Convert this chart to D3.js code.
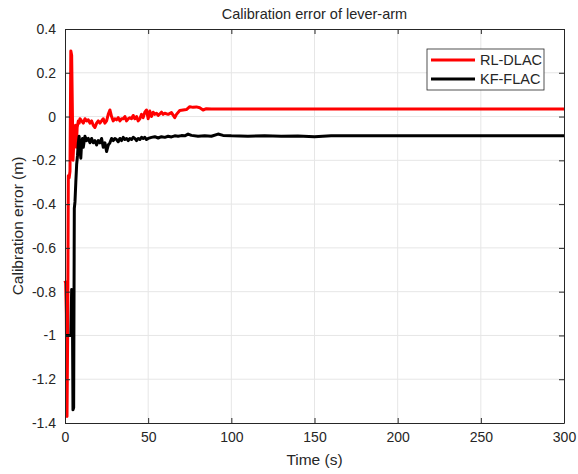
<!DOCTYPE html>
<html>
<head>
<meta charset="utf-8">
<script src="https://cdn.jsdelivr.net/npm/d3@7"></script>
<style>
  body { margin: 0; background: #fff; }
  svg { font-family: "Liberation Sans", Arial, sans-serif; }
</style>
</head>
<body>
<script>
// series
var redTime = [0, 0.4, 0.8, 1.2, 1.6, 2.0, 2.5, 3.0, 3.5, 4.0, 4.4, 4.8, 5.3, 5.8, 6.3, 6.8, 7.3, 8, 8.5, 9,
  10, 11, 12, 13, 14, 15, 16, 17, 18, 19, 20, 21, 22, 23, 24, 25, 26, 27, 28, 29,
  30, 31, 32, 33, 34, 35, 36, 37, 38, 39, 40, 41, 42, 43, 44, 45, 46, 47, 48, 49,
  50, 51, 52, 53, 54, 55, 56, 57, 58, 59, 60, 62, 64, 66, 67, 69, 71, 73, 75, 77,
  79, 81, 83, 85, 88, 92, 100, 150, 200, 300];
var redError = [-0.75, -0.76, -0.9, -1.37, -1.0, -0.27, -0.28, -0.25, 0.30, 0.28, 0.05, -0.20, -0.12, -0.05, -0.04, -0.14, -0.05, -0.02, -0.03, -0.01,
  -0.02, -0.03, -0.01, -0.02, -0.015, -0.03, -0.02, -0.04, -0.05, -0.03, -0.02, -0.03, -0.02, -0.01, -0.03, -0.02, 0.01, 0.03, 0.0, -0.02,
  -0.01, -0.015, -0.005, -0.02, -0.01, -0.01, 0.0, -0.02, -0.01, -0.005, -0.01, 0.005, -0.01, 0.0, -0.02, -0.01, 0.01, -0.005, 0.02, 0.03,
  -0.01, 0.025, 0.0, 0.02, 0.01, 0.015, 0.005, 0.012, 0.02, 0.01, 0.015, 0.01, 0.018, -0.005, 0.01, 0.028, 0.03, 0.032, 0.045, 0.042,
  0.044, 0.04, 0.03, 0.036, 0.035, 0.034, 0.035, 0.035, 0.035, 0.035];

var blackTime = [0, 1, 2, 3, 3.5, 4.0, 4.4, 4.8, 5.2, 5.6, 6.0, 6.5, 7, 7.5, 8, 8.5, 9, 9.5, 10, 10.5,
  11, 12, 13, 14, 15, 16, 17, 18, 19, 20, 21, 22, 23, 24, 25, 26, 27, 28, 29, 30,
  31, 32, 33, 34, 35, 36, 37, 38, 39, 40, 41, 42, 43, 44, 45, 46, 47, 48, 49, 50,
  52, 54, 56, 58, 60, 62, 64, 66, 68, 70, 72, 74, 76, 80, 84, 88, 92, 95, 100, 110,
  120, 130, 140, 150, 160, 200, 300];
var blackError = [-1.0, -1.0, -1.0, -1.0, -1.0, -0.79, -0.80, -1.34, -1.33, -0.42, -0.39, -0.30, -0.22, -0.18, -0.12, -0.09, -0.15, -0.19, -0.12, -0.10,
  -0.14, -0.09, -0.11, -0.10, -0.12, -0.10, -0.12, -0.11, -0.13, -0.11, -0.12, -0.10, -0.14, -0.12, -0.16, -0.13, -0.12, -0.10, -0.11, -0.10,
  -0.105, -0.115, -0.10, -0.11, -0.095, -0.105, -0.10, -0.11, -0.10, -0.105, -0.095, -0.10, -0.11, -0.10, -0.105, -0.095, -0.10, -0.095, -0.105, -0.10,
  -0.095, -0.092, -0.098, -0.092, -0.095, -0.09, -0.093, -0.088, -0.09, -0.087, -0.088, -0.08, -0.086, -0.09, -0.088, -0.09, -0.08, -0.086, -0.088, -0.09,
  -0.088, -0.09, -0.089, -0.092, -0.088, -0.088, -0.088];

var seriesNames = ["RL-DLAC", "KF-FLAC"];
var seriesColors = ["#ff0000", "#000000"];
var xTicks = [0, 50, 100, 150, 200, 250, 300];
var yTicks = [-1.4, -1.2, -1, -0.8, -0.6, -0.4, -0.2, 0, 0.2, 0.4];

var width = 578, height = 474;
var margin = {top: 29, right: 14, bottom: 51, left: 65};
var textColor = "#262626";

var svg = d3.select("body").append("svg")
  .attr("width", width)
  .attr("height", height);

var x = d3.scaleLinear().domain([0, 300]).range([margin.left, width - margin.right]);
var y = d3.scaleLinear().domain([-1.4, 0.4]).range([height - margin.bottom, margin.top]);

// grid
svg.append("g").selectAll("line").data(xTicks.slice(1, -1)).enter().append("line")
  .attr("x1", function(d) { return x(d); }).attr("x2", function(d) { return x(d); })
  .attr("y1", y(-1.4)).attr("y2", y(0.4))
  .attr("stroke", "#e6e6e6").attr("stroke-width", 1);
svg.append("g").selectAll("line").data(yTicks.slice(1, -1)).enter().append("line")
  .attr("y1", function(d) { return y(d); }).attr("y2", function(d) { return y(d); })
  .attr("x1", x(0)).attr("x2", x(300))
  .attr("stroke", "#e6e6e6").attr("stroke-width", 1);

// lines
var line = d3.line()
  .x(function(d) { return x(d[0]); })
  .y(function(d) { return y(d[1]); });

var redData = redTime.map(function(t, i) { return [t, redError[i]]; });
var blackData = blackTime.map(function(t, i) { return [t, blackError[i]]; });

svg.append("path").datum(redData)
  .attr("d", line).attr("fill", "none")
  .attr("stroke", seriesColors[0]).attr("stroke-width", 3).attr("stroke-linejoin", "round");
svg.append("path").datum(blackData)
  .attr("d", line).attr("fill", "none")
  .attr("stroke", seriesColors[1]).attr("stroke-width", 3).attr("stroke-linejoin", "round");

// axes, MATLAB style: ticks inward on all four sides
function styleAxis(g) {
  g.select(".domain").attr("stroke", textColor);
  g.selectAll(".tick line").attr("stroke", textColor);
  g.selectAll(".tick text").attr("fill", textColor).style("font-size", "14px");
}

svg.append("g")
  .attr("transform", "translate(0," + y(-1.4) + ")")
  .call(d3.axisBottom(x).tickValues(xTicks).tickSizeInner(-5).tickSizeOuter(0).tickPadding(9))
  .call(styleAxis);
svg.append("g")
  .attr("transform", "translate(0," + y(0.4) + ")")
  .call(d3.axisTop(x).tickValues(xTicks).tickSizeInner(-5).tickSizeOuter(0).tickFormat(""))
  .call(styleAxis);
svg.append("g")
  .attr("transform", "translate(" + x(0) + ",0)")
  .call(d3.axisLeft(y).tickValues(yTicks).tickSizeInner(-5).tickSizeOuter(0).tickPadding(9)
    .tickFormat(function(d) { return d3.format("")(Math.round(d * 10) / 10).replace("−", "-"); }))
  .call(styleAxis);
svg.append("g")
  .attr("transform", "translate(" + x(300) + ",0)")
  .call(d3.axisRight(y).tickValues(yTicks).tickSizeInner(-5).tickSizeOuter(0).tickFormat(""))
  .call(styleAxis);

// labels
svg.append("text")
  .attr("x", (x(0) + x(300)) / 2).attr("y", 19)
  .attr("text-anchor", "middle").attr("fill", textColor)
  .style("font-size", "14.5px").text("Calibration error of lever-arm");
svg.append("text")
  .attr("x", (x(0) + x(300)) / 2).attr("y", 465)
  .attr("text-anchor", "middle").attr("fill", textColor)
  .style("font-size", "15.5px").text("Time (s)");
svg.append("text")
  .attr("transform", "translate(23," + ((y(-1.4) + y(0.4)) / 2) + ") rotate(-90)")
  .attr("text-anchor", "middle").attr("fill", textColor)
  .style("font-size", "15.5px").text("Calibration error (m)");

// legend
var legend = svg.append("g").attr("transform", "translate(427,49)");
legend.append("rect")
  .attr("width", 117).attr("height", 41)
  .attr("fill", "#fff").attr("stroke", textColor).attr("stroke-width", 0.8);
var items = legend.selectAll("g.item").data(seriesNames).enter().append("g")
  .attr("class", "item")
  .attr("transform", function(d, i) { return "translate(0," + (11 + i * 19) + ")"; });
items.append("line")
  .attr("x1", 4).attr("x2", 48)
  .attr("stroke", function(d, i) { return seriesColors[i]; })
  .attr("stroke-width", 3);
items.append("text")
  .attr("x", 53).attr("y", 5)
  .attr("fill", textColor).style("font-size", "14.5px")
  .text(function(d) { return d; });
</script>
</body>
</html>
